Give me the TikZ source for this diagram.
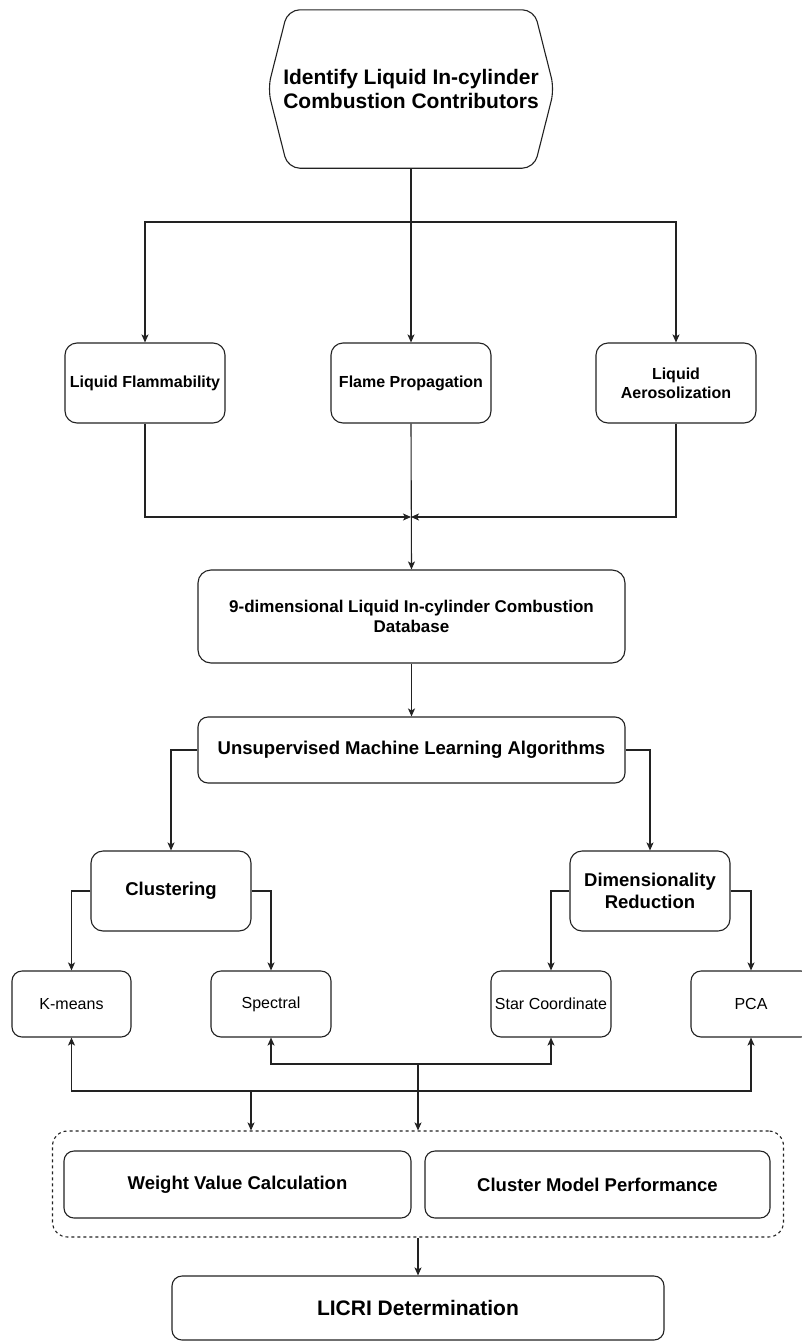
\documentclass[tikz,border=0pt]{standalone}
\usepackage{fontspec}
\setmainfont{Liberation Sans}
\usetikzlibrary{arrows.meta,calc}
\definecolor{linec}{HTML}{222222}
\newcommand\fsz[2]{\fontsize{#1}{#2}\selectfont}
\tikzset{
  box/.style={draw=linec, line width=1.1pt, inner sep=0pt, align=center, text=black},
  bigbold/.style={font=\bfseries\fsz{21}{24}},
  midbold/.style={font=\bfseries\fsz{18.5}{22}},
  dbbold/.style={font=\bfseries\fsz{17}{20}},
  smallbold/.style={font=\bfseries\fsz{16}{19}},
  plain/.style={font=\fsz{16}{19}},
  link/.style={draw=linec, line width=1.1pt},
  arr/.style={link, -{Stealth[length=8pt,width=7pt,inset=2pt]}},
}
\begin{document}
\begin{tikzpicture}[x=1pt,y=-1pt]
% page frame
\fill[white] (0,0) rectangle (802,1341);
\clip (0,0) rectangle (802,1341);

% top hexagon
\node[inner sep=0pt, minimum width=286pt, minimum height=158pt, align=center, bigbold] (hex) at (411,89)
  {Identify Liquid In-cylinder\\Combustion Contributors};
\draw[link, rounded corners=12pt] (hex.north) -- ($(hex.north east)+(-20,0)$) -- (hex.east)
  -- ($(hex.south east)+(-20,0)$) -- ($(hex.south west)+(20,0)$) -- (hex.west)
  -- ($(hex.north west)+(20,0)$) -- cycle;

% contributors
\node[box, rounded corners=12pt, minimum width=160pt, minimum height=80pt, smallbold] (lf) at (145,383) {Liquid Flammability};
\node[box, rounded corners=12pt, minimum width=160pt, minimum height=80pt, smallbold] (fp) at (411,383) {Flame Propagation};
\node[box, rounded corners=12pt, minimum width=160pt, minimum height=80pt, smallbold] (la) at (676,383) {Liquid\\Aerosolization};

% database and algorithms
\node[box, rounded corners=13pt, minimum width=427pt, minimum height=93pt, dbbold] (db) at (411.5,616.5)
  {9-dimensional Liquid In-cylinder Combustion\\Database};
\node[box, rounded corners=10pt, minimum width=427pt, minimum height=66pt, midbold] (uml) at (411.5,750)
  {Unsupervised Machine Learning Algorithms};

\node[box, rounded corners=12pt, minimum width=160pt, minimum height=80pt, midbold] (clu) at (171,891) {Clustering};
\node[box, rounded corners=12pt, minimum width=160pt, minimum height=80pt, midbold] (dim) at (650,891) {Dimensionality\\Reduction};

\node[box, rounded corners=10pt, minimum width=119pt, minimum height=66pt, plain] (km) at (71.5,1004) {K-means};
\node[box, rounded corners=10pt, minimum width=120pt, minimum height=66pt, plain] (spec) at (271,1004) {Spectral};
\node[box, rounded corners=10pt, minimum width=120pt, minimum height=66pt, plain] (star) at (551,1004) {Star Coordinate};
\node[box, rounded corners=10pt, minimum width=120pt, minimum height=66pt, plain] (pca) at (751,1004) {PCA};

% evaluation group
\node[draw=linec, line width=1.1pt, dash pattern=on 3pt off 3pt, rounded corners=15pt,
  minimum width=731pt, minimum height=106pt, inner sep=0pt] (grp) at (418,1184) {};
\node[box, rounded corners=10pt, minimum width=347pt, minimum height=67pt, midbold] (wvc) at (237.5,1184.5) {Weight Value Calculation};
\node[box, rounded corners=10pt, minimum width=345pt, minimum height=67pt, midbold] (cmp) at (597.5,1184.5) {Cluster Model Performance};

\node[box, rounded corners=10pt, minimum width=492pt, minimum height=64pt, bigbold] (licri) at (418,1308) {LICRI Determination};

% hexagon to contributors
\coordinate (h1) at (411,222);
\draw[link] (hex.south) -- (h1);
\draw[arr] (h1) -| (lf.north);
\draw[arr] (h1) -- (fp.north);
\draw[arr] (h1) -| (la.north);

% contributors to database
\coordinate (m1) at (411,517);
\draw[arr] (lf.south) |- (m1);
\draw[arr] (la.south) |- (m1);
\draw[arr] (fp.south) -- (db.north);
\draw[arr] (db.south) -- (uml.north);

% algorithm families
\draw[arr] (uml.west) -| (clu.north);
\draw[arr] (uml.east) -| (dim.north);
\draw[arr] (clu.west) -| (km.north);
\draw[arr] (clu.east) -| (spec.north);
\draw[arr] (dim.west) -| (star.north);
\draw[arr] (dim.east) -| (pca.north);

% methods to evaluation group
\coordinate (j1) at (418,1064);
\coordinate (j2) at (251,1091);
\draw[arr] (j1) -| (spec.south);
\draw[arr] (j1) -| (star.south);
\draw[arr] (j1) -- (grp.north);
\draw[arr] (j2) -| (km.south);
\draw[arr] (j2) -| (pca.south);
\draw[arr] (j2) -- (j2 |- grp.north);

% group to result
\draw[arr] (grp.south) -- (licri.north);
\end{tikzpicture}
\end{document}
